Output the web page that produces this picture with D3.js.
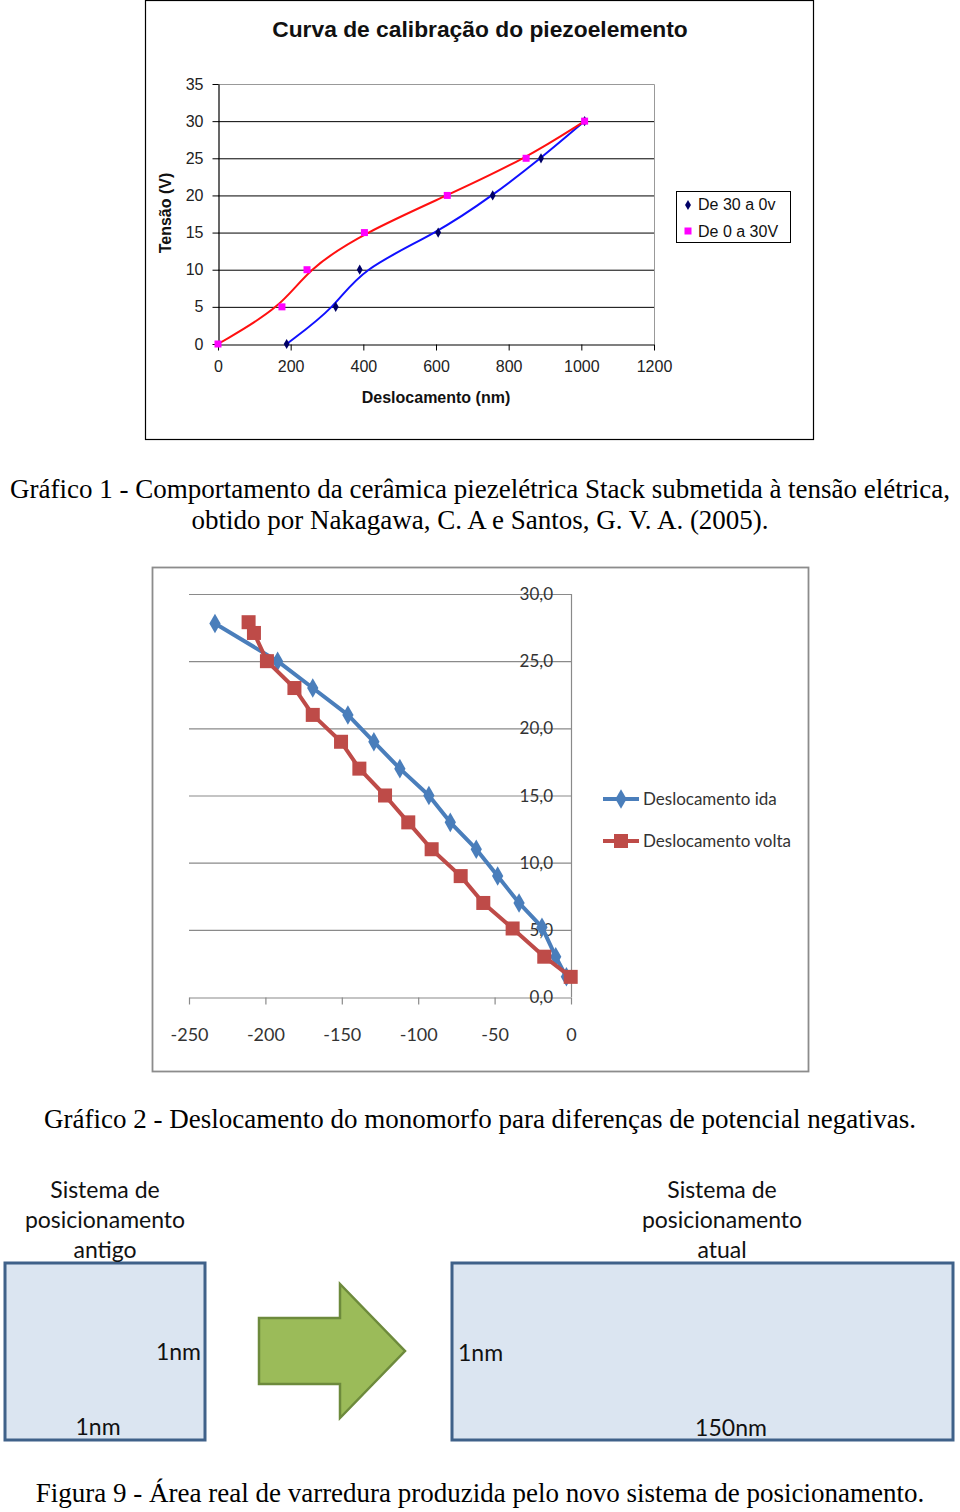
<!DOCTYPE html>
<html><head><meta charset="utf-8">
<script src="https://cdn.jsdelivr.net/npm/d3@7"></script>
<style>body{margin:0;background:#fff}svg{display:block}</style>
</head><body>
<script>
// ---------- Chart 1 data ----------
const c1Title = "Curva de calibração do piezoelemento";
const c1XTicks = [0, 200, 400, 600, 800, 1000, 1200];
const c1YTicks = [0, 5, 10, 15, 20, 25, 30, 35];
const c1DownX = [1009, 889, 756, 606, 390, 324, 189];   // De 30 a 0v
const c1DownY = [30, 25, 20, 15, 10, 5, 0];
const c1UpX = [0, 176, 245, 403, 631, 848, 1009];       // De 0 a 30V
const c1UpY = [0, 5, 10, 15, 20, 25, 30];
const c1Names = ["De 30 a 0v", "De 0 a 30V"];

// ---------- Chart 2 data ----------
const c2XTicks = [-250, -200, -150, -100, -50, 0];
const c2YTicks = [0, 5, 10, 15, 20, 25, 30];
const c2IdaX = [-233, -192, -169, -146, -129, -112, -93, -79, -62, -48, -34, -19, -10, -3];
const c2IdaY = [27.8, 25.0, 23.0, 21.0, 19.0, 17.0, 15.0, 13.0, 11.0, 9.0, 7.0, 5.2, 3.0, 1.5];
const c2VoltaX = [-211, -207.5, -199, -181, -169, -150.5, -138.5, -121.7, -106.5, -91.2, -72.2, -57.4, -38.2, -17.5, -0.2];
const c2VoltaY = [27.9, 27.1, 25.0, 23.0, 21.0, 19.0, 17.0, 15.0, 13.0, 11.0, 9.0, 7.0, 5.1, 3.0, 1.5];
const c2Names = ["Deslocamento ida", "Deslocamento volta"];

// ---------- Captions / figure texts ----------
const caption1 = ["Gráfico 1 - Comportamento da cerâmica piezelétrica Stack submetida à tensão elétrica,",
                  "obtido por Nakagawa, C. A e Santos, G. V. A. (2005)."];
const caption2 = "Gráfico 2 - Deslocamento do monomorfo para diferenças de potencial negativas.";
const caption3 = "Figura 9 - Área real de varredura produzida pelo novo sistema de posicionamento.";
const fig9Left = ["Sistema de", "posicionamento", "antigo"];
const fig9Right = ["Sistema de", "posicionamento", "atual"];

const W = 960, H = 1512;
const svg = d3.select("body").append("svg").attr("width", W).attr("height", H);
svg.append("rect").attr("width", W).attr("height", H).attr("fill", "#fff");

// ================= CHART 1 =================
{
  const g = svg.append("g");
  const arial = "'Liberation Sans', Arial, sans-serif";
  g.append("rect").attr("x", 145.5).attr("y", 0.5).attr("width", 668).attr("height", 439)
    .attr("fill", "#fff").attr("stroke", "#000").attr("stroke-width", 1.2);
  g.append("text").attr("x", 480).attr("y", 37).attr("text-anchor", "middle")
    .style("font-family", arial).attr("font-weight", "bold").attr("font-size", 22.8)
    .attr("fill", "#111").text(c1Title);

  const x = d3.scaleLinear().domain([0, 1200]).range([218, 654]);
  const y = d3.scaleLinear().domain([0, 35]).range([344, 84]);

  g.append("g").selectAll("line").data(c1YTicks.filter(d => d > 0 && d < 35)).join("line")
    .attr("x1", 218).attr("x2", 654).attr("y1", d => y(d) + 0.5).attr("y2", d => y(d) + 0.5)
    .attr("stroke", "#000").attr("stroke-width", 1);
  g.append("path").attr("d", `M218,${y(35) + 0.5}H654.5V344`).attr("fill", "none")
    .attr("stroke", "#999").attr("stroke-width", 1);

  const xAxis = g.append("g").attr("transform", "translate(0,344.5)")
    .call(d3.axisBottom(x).tickValues(c1XTicks).tickFormat(d3.format("d")).tickSize(6).tickSizeOuter(0).tickPadding(10));
  const yAxis = g.append("g").attr("transform", "translate(218.5,0)")
    .call(d3.axisLeft(y).tickValues(c1YTicks).tickFormat(d3.format("d")).tickSize(6).tickSizeOuter(0).tickPadding(9));
  [xAxis, yAxis].forEach(a => {
    a.attr("font-family", null).attr("font-size", null);
    a.select(".domain").attr("stroke", "#000").attr("stroke-width", 1.2);
    a.selectAll(".tick line").attr("stroke", "#000");
    a.selectAll("text").style("font-family", arial).style("font-size", "16px").attr("fill", "#222");
  });

  g.append("text").attr("x", 436).attr("y", 403).attr("text-anchor", "middle")
    .style("font-family", arial).attr("font-weight", "bold").attr("font-size", 16).attr("fill", "#111")
    .text("Deslocamento (nm)");
  g.append("text").attr("transform", "translate(171,213) rotate(-90)").attr("text-anchor", "middle")
    .style("font-family", arial).attr("font-weight", "bold").attr("font-size", 16).attr("fill", "#111")
    .text("Tensão (V)");

  const down = c1DownX.map((v, i) => [v, c1DownY[i]]).sort((a, b) => a[0] - b[0]);
  const up = c1UpX.map((v, i) => [v, c1UpY[i]]);
  const line = d3.line().x(d => x(d[0])).y(d => y(d[1])).curve(d3.curveBasis);
  g.append("path").attr("d", line(down)).attr("fill", "none").attr("stroke", "#1010ff").attr("stroke-width", 2);
  g.append("path").attr("d", line(up)).attr("fill", "none").attr("stroke", "#ff1010").attr("stroke-width", 2);

  const dia = d3.symbol().type(d3.symbolDiamond).size(30);
  g.append("g").selectAll("path").data(down).join("path")
    .attr("transform", d => `translate(${x(d[0])},${y(d[1])})`).attr("d", dia).attr("fill", "#000066");
  g.append("g").selectAll("rect").data(up).join("rect")
    .attr("x", d => x(d[0]) - 3.5).attr("y", d => y(d[1]) - 3.5).attr("width", 7).attr("height", 7)
    .attr("fill", "#ff00ff");

  const lg = g.append("g");
  lg.append("rect").attr("x", 676.5).attr("y", 191.5).attr("width", 114).attr("height", 51)
    .attr("fill", "#fff").attr("stroke", "#000").attr("stroke-width", 1);
  lg.append("path").attr("transform", "translate(688,205)").attr("d", dia).attr("fill", "#000066");
  lg.append("rect").attr("x", 684.5).attr("y", 227.5).attr("width", 7).attr("height", 7).attr("fill", "#ff00ff");
  lg.selectAll("text").data(c1Names).join("text")
    .attr("x", 698).attr("y", (d, i) => 210 + i * 27)
    .style("font-family", arial).attr("font-size", 16).attr("fill", "#111").text(d => d);
}

const serif = "'Liberation Serif', 'Times New Roman', serif";
svg.append("g").selectAll("text").data(caption1).join("text")
  .attr("x", 480).attr("y", (d, i) => 498 + i * 31).attr("text-anchor", "middle")
  .style("font-family", serif).attr("font-size", 27).attr("fill", "#000").text(d => d);

// ================= CHART 2 =================
{
  const g = svg.append("g");
  const cal = "Lato, 'Open Sans', sans-serif";
  g.append("rect").attr("x", 152.5).attr("y", 567.5).attr("width", 656).attr("height", 504)
    .attr("fill", "#fff").attr("stroke", "#8c8c8c").attr("stroke-width", 1.8);

  const x = d3.scaleLinear().domain([-250, 0]).range([189, 571]);
  const y = d3.scaleLinear().domain([0, 30]).range([997, 594]);

  g.append("g").selectAll("line").data(c2YTicks.filter(d => d > 0)).join("line")
    .attr("x1", 189).attr("x2", 571).attr("y1", d => y(d) + 0.5).attr("y2", d => y(d) + 0.5)
    .attr("stroke", "#8a8a8a").attr("stroke-width", 1.2);
  g.append("line").attr("x1", 571.5).attr("x2", 571.5).attr("y1", 594).attr("y2", 997)
    .attr("stroke", "#8a8a8a").attr("stroke-width", 1.2);

  const xAxis = g.append("g").attr("transform", "translate(0,997.5)")
    .call(d3.axisBottom(x).tickValues(c2XTicks).tickFormat(d => String(d)).tickSize(7).tickSizeOuter(0).tickPadding(24));
  xAxis.attr("font-family", null).attr("font-size", null);
  xAxis.select(".domain").attr("stroke", "#8a8a8a").attr("stroke-width", 1.2);
  xAxis.selectAll(".tick line").attr("stroke", "#8a8a8a").attr("stroke-width", 1.2);
  xAxis.selectAll("text").style("font-family", cal).style("font-size", "18px").attr("fill", "#333");

  const fmt = d => d3.format(".1f")(d).replace(".", ",");
  g.append("g").selectAll("text").data(c2YTicks).join("text")
    .attr("x", 553).attr("y", d => y(d) + 6).attr("text-anchor", "end")
    .style("font-family", cal).attr("font-size", 17).attr("fill", "#333").text(fmt);

  const ida = c2IdaX.map((v, i) => [v, c2IdaY[i]]);
  const volta = c2VoltaX.map((v, i) => [v, c2VoltaY[i]]);
  const line = d3.line().x(d => x(d[0])).y(d => y(d[1]));
  const blue = "#4a7ebb", red = "#be4b48";
  g.append("path").attr("d", line(ida)).attr("fill", "none").attr("stroke", blue).attr("stroke-width", 4).attr("stroke-linejoin", "round");
  const dia = d3.symbol().type(d3.symbolDiamond).size(110);
  g.append("g").selectAll("path").data(ida).join("path")
    .attr("transform", d => `translate(${x(d[0])},${y(d[1])})`).attr("d", dia).attr("fill", blue);
  g.append("path").attr("d", line(volta)).attr("fill", "none").attr("stroke", red).attr("stroke-width", 4).attr("stroke-linejoin", "round");
  g.append("g").selectAll("rect").data(volta).join("rect")
    .attr("x", d => x(d[0]) - 7).attr("y", d => y(d[1]) - 7).attr("width", 14).attr("height", 14)
    .attr("fill", red);

  const lg = g.append("g");
  lg.append("line").attr("x1", 603).attr("x2", 639).attr("y1", 799).attr("y2", 799).attr("stroke", blue).attr("stroke-width", 4);
  lg.append("path").attr("transform", "translate(621,799)").attr("d", dia).attr("fill", blue);
  lg.append("line").attr("x1", 603).attr("x2", 639).attr("y1", 841).attr("y2", 841).attr("stroke", red).attr("stroke-width", 4);
  lg.append("rect").attr("x", 614).attr("y", 834).attr("width", 14).attr("height", 14).attr("fill", red);
  lg.selectAll("text").data(c2Names).join("text")
    .attr("x", 643).attr("y", (d, i) => 805 + i * 42)
    .style("font-family", cal).attr("font-size", 17).attr("fill", "#333").text(d => d);
}

svg.append("text").attr("x", 480).attr("y", 1128).attr("text-anchor", "middle")
  .style("font-family", serif).attr("font-size", 27).attr("fill", "#000").text(caption2);

// ================= FIGURE 9 =================
{
  const g = svg.append("g");
  const cal = "Lato, 'Open Sans', sans-serif";
  const fill = "#dbe5f1", stroke = "#3f6189";
  g.append("rect").attr("x", 5).attr("y", 1263).attr("width", 200).attr("height", 177)
    .attr("fill", fill).attr("stroke", stroke).attr("stroke-width", 3);
  g.append("rect").attr("x", 452).attr("y", 1263).attr("width", 501).attr("height", 177)
    .attr("fill", fill).attr("stroke", stroke).attr("stroke-width", 3);
  g.append("path")
    .attr("d", "M259,1318H340V1284L405,1351L340,1418V1384H259Z")
    .attr("fill", "#9bbb59").attr("stroke", "#6d8a3c").attr("stroke-width", 2.5).attr("stroke-linejoin", "miter");

  const txt = (x, y, t, anchor) => g.append("text").attr("x", x).attr("y", y)
    .attr("text-anchor", anchor || "middle").style("font-family", cal).attr("font-size", 23)
    .attr("fill", "#111").text(t);
  fig9Left.forEach((t, i) => txt(105, 1198 + i * 30, t));
  fig9Right.forEach((t, i) => txt(722, 1198 + i * 30, t));
  txt(201, 1360, "1nm", "end");
  txt(98, 1435, "1nm");
  txt(458, 1361, "1nm", "start");
  txt(731, 1436, "150nm");
}

svg.append("text").attr("x", 480).attr("y", 1502).attr("text-anchor", "middle")
  .style("font-family", serif).attr("font-size", 27).attr("fill", "#000").text(caption3);
</script>
</body></html>
